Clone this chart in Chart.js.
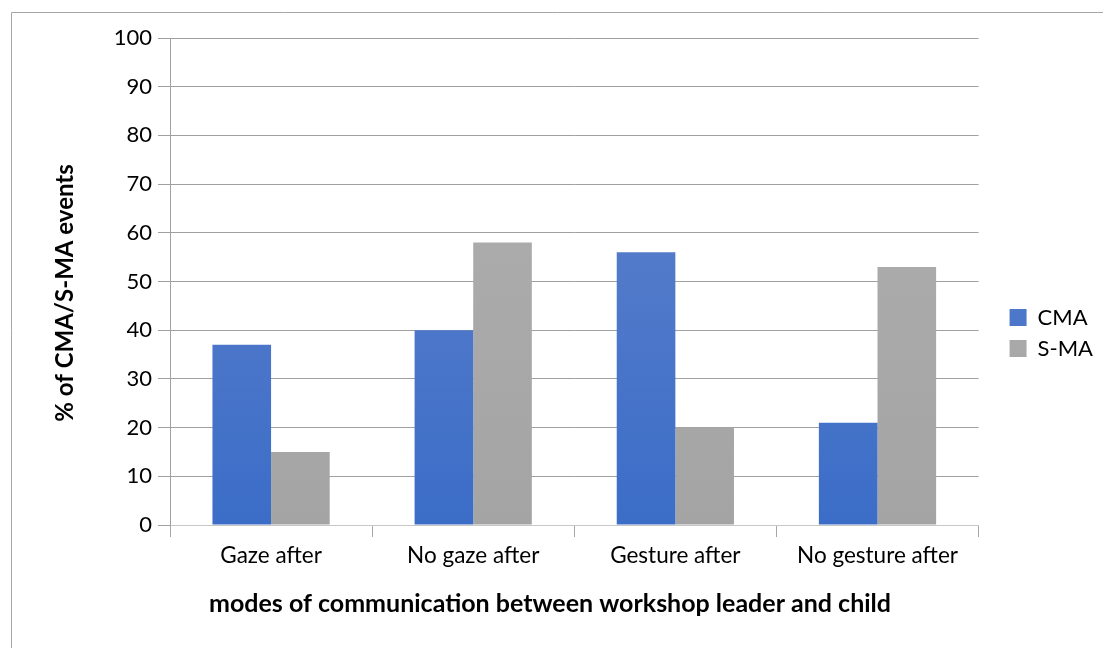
<!DOCTYPE html>
<html lang="en">
<head>
  <meta charset="UTF-8" />
  <title>CMA / S-MA events</title>
  <script src="https://cdn.jsdelivr.net/npm/chart.js"></script>
  <style>
    html, body { margin: 0; padding: 0; background: #fff; overflow: hidden; }
    canvas { display: block; }
  </style>
</head>
<body>
  <canvas id="grafico" width="1103" height="648"></canvas>
  <script>
    const categorias = ['Gaze after', 'No gaze after', 'Gesture after', 'No gesture after'];
    const cma = [37, 40, 56, 21];
    const sma = [15, 58, 20, 53];
    const tituloX = 'modes of communication between workshop leader and child';
    const tituloY = '% of CMA/S-MA events';
    const fonte = 'Lato, "Open Sans", sans-serif';

    function gradiente(ctx, topo, base) {
      const area = ctx.chart.chartArea;
      if (!area) return base;
      const g = ctx.chart.ctx.createLinearGradient(0, area.top, 0, area.bottom);
      g.addColorStop(0, topo);
      g.addColorStop(1, base);
      return g;
    }

    // gray frame (left + top) and the two axis titles, placed like in the original
    const moldura = {
      id: 'moldura',
      afterLayout(chart) {
        // push the legend a bit away from the plot
        chart.legend.left += 22;
        chart.legend.right += 22;
      },
      afterDraw(chart) {
        const c = chart.ctx;
        c.save();
        c.strokeStyle = '#a6a6a6';
        c.lineWidth = 1;
        c.beginPath();
        c.moveTo(11.5, 648);
        c.lineTo(11.5, 12.5);
        c.lineTo(1103, 12.5);
        c.stroke();

        c.fillStyle = '#000';
        c.textAlign = 'center';
        c.textBaseline = 'middle';
        c.font = 'bold 25px ' + fonte;
        c.fillText(tituloX, 550, 604);
        c.translate(65, 293);
        c.rotate(-Math.PI / 2);
        c.font = 'bold 24px ' + fonte;
        c.fillText(tituloY, 0, 0);
        c.restore();
      }
    };

    new Chart(document.getElementById('grafico'), {
      type: 'bar',
      data: {
        labels: categorias,
        datasets: [
          { label: 'CMA', data: cma, backgroundColor: ctx => gradiente(ctx, '#6585cb', '#3b6dc8') },
          { label: 'S-MA', data: sma, backgroundColor: ctx => gradiente(ctx, '#b0b0b0', '#a4a4a4') }
        ]
      },
      options: {
        responsive: false,
        animation: false,
        devicePixelRatio: 1,
        layout: { padding: { top: 38, left: 40, right: 22, bottom: 20 } },
        datasets: { bar: { categoryPercentage: 0.58, barPercentage: 1 } },
        plugins: {
          legend: {
            position: 'right',
            labels: { boxWidth: 17, boxHeight: 17, padding: 9, color: '#000', font: { family: fonte, size: 22 } }
          },
          tooltip: { enabled: false }
        },
        scales: {
          x: {
            afterFit: s => { s.height = 103; },
            grid: { drawOnChartArea: false, tickLength: 12, color: '#a6a6a6', offset: true },
            border: { color: '#c8c8c8' },
            ticks: { color: '#000', padding: 5, font: { family: fonte, size: 22.5 } }
          },
          y: {
            min: 0, max: 100,
            afterFit: s => { s.width = 130; },
            grid: { color: '#a0a0a0', tickLength: 12 },
            border: { color: '#a0a0a0' },
            ticks: { stepSize: 10, color: '#000', padding: 6, font: { family: fonte, size: 22 } }
          }
        }
      },
      plugins: [moldura]
    });
  </script>
</body>
</html>
